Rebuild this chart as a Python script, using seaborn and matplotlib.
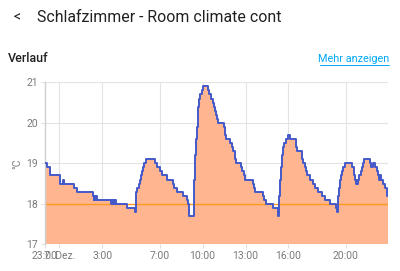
import matplotlib
matplotlib.use("Agg")
import matplotlib.pyplot as plt
import seaborn as sns
import pandas as pd
from matplotlib.lines import Line2D

# ---- data (hours relative to midnight of 7. Dez.) ----
times = [-1.0, -0.88, -0.65, 0.05, 0.28, 0.33, 1.03, 1.26, 2.33, 2.40, 2.45, 2.52, 2.58, 2.65,
         3.60, 3.66, 3.72, 3.78, 3.84, 3.90, 3.96, 4.70, 5.28, 5.33, 5.44, 5.58, 5.65, 5.72, 5.77,
         5.82, 5.91, 6.03, 6.68, 6.85, 7.05, 7.19, 7.50, 7.96, 8.03, 8.19, 8.65, 8.89, 9.00, 9.07,
         9.38, 9.44, 9.52, 9.59, 9.65, 9.70, 9.76, 9.82, 9.94, 10.05, 10.38, 10.48, 10.58, 10.70,
         10.80, 10.87, 10.95, 11.03, 11.10, 11.51, 11.56, 11.60, 11.65, 11.91, 12.03, 12.14, 12.24,
         12.30, 12.36, 12.66, 12.77, 12.88, 12.96, 13.54, 13.61, 13.66, 14.19, 14.26, 14.40, 14.94,
         15.24, 15.28, 15.35, 15.42, 15.48, 15.55, 15.63, 15.72, 15.82, 16.00, 16.08, 16.50, 16.57,
         16.96, 17.03, 17.12, 17.22, 17.31, 17.49, 17.73, 17.84, 18.07, 18.31, 18.54, 18.89, 19.31,
         19.40, 19.47, 19.52, 19.59, 19.66, 19.71, 19.82, 19.94, 20.47, 20.57, 20.64, 20.70, 20.76,
         20.82, 20.87, 20.94, 21.03, 21.15, 21.20, 21.26, 21.68, 21.78, 21.88, 22.03, 22.15, 22.26,
         22.33, 22.40, 22.47, 22.61, 22.73, 22.85, 22.95]
temps = [19.0, 18.9, 18.7, 18.5, 18.6, 18.5, 18.4, 18.3, 18.2, 18.1, 18.2, 18.1, 18.2, 18.1,
         18.0, 18.1, 18.0, 18.1, 18.0, 18.1, 18.0, 17.9, 17.8, 18.3, 18.4, 18.5, 18.6, 18.7, 18.8,
         18.9, 19.0, 19.1, 19.0, 18.9, 18.8, 18.7, 18.6, 18.5, 18.4, 18.3, 18.2, 18.1, 18.0, 17.7,
         18.6, 19.2, 19.6, 19.9, 20.2, 20.4, 20.6, 20.7, 20.8, 20.9, 20.8, 20.7, 20.6, 20.5,
         20.4, 20.3, 20.2, 20.1, 20.0, 19.9, 19.8, 19.7, 19.6, 19.5, 19.4, 19.3, 19.2,
         19.1, 19.0, 18.9, 18.8, 18.7, 18.6, 18.5, 18.4, 18.3, 18.2, 18.1, 18.0, 17.9,
         17.8, 17.7, 18.2, 18.6, 18.9, 19.2, 19.4, 19.5, 19.6, 19.7, 19.6, 19.4, 19.3,
         19.1, 19.0, 18.9, 18.8, 18.7, 18.6, 18.5, 18.4, 18.3, 18.2, 18.1, 18.0, 17.9,
         17.8, 18.2, 18.4, 18.6, 18.7, 18.8, 18.9, 19.0, 18.9, 18.7, 18.6, 18.5, 18.6,
         18.5, 18.6, 18.7, 18.8, 18.9, 19.0, 19.1, 19.0, 18.9, 19.0, 18.9, 18.8, 18.7,
         18.6, 18.7, 18.6, 18.5, 18.4, 18.2, 18.2]
target_temp = [18.0, 18.0]
target_times = [-1.0, 22.95]

tick_pos = [-1, 0, 3, 7, 10, 13, 16, 20]
tick_labels = ["23:00", "7. Dez.", "3:00", "7:00", "10:00", "13:00", "16:00", "20:00"]
y_ticks = [17, 18, 19, 20, 21]

sns.set_theme(style="white")
plt.rcParams["font.family"] = ["Roboto", "DejaVu Sans"]

fig = plt.figure(figsize=(4.0, 2.71), dpi=100)
ax = fig.add_axes([0.1125, 0.0985, 0.8575, 0.5978])

df = pd.DataFrame({"t": times, "temp": temps})
tdf = pd.DataFrame({"t": target_times, "temp": target_temp})

ax.fill_between(df["t"], df["temp"], 17, step="post", color="#ffb690", lw=0, zorder=1)
sns.lineplot(data=tdf, x="t", y="temp", ax=ax, color="#ff9a1f", lw=1.0, zorder=2,
             estimator=None)
sns.lineplot(data=df, x="t", y="temp", ax=ax, color="#4459c9", lw=1.4,
             drawstyle="steps-post", estimator=None, sort=False, zorder=3)

ax.set_xlim(-1, 22.95)
ax.set_ylim(17, 21)
ax.set_xticks(tick_pos)
ax.set_xticklabels(tick_labels)
ax.set_yticks(y_ticks)
ax.grid(True, color="#e3e3e3", lw=0.8)
ax.set_axisbelow(True)
for s in ["top", "right", "bottom"]:
    ax.spines[s].set_visible(False)
ax.spines["left"].set_color("#d0d0d0")
ax.spines["left"].set_linewidth(1.0)
ax.tick_params(axis="both", colors="#e0e0e0", labelcolor="#7a7a7a", labelsize=7.5,
               length=3, width=0.8, pad=2, left=True, bottom=True)
ax.set_xlabel("")
ax.set_ylabel("°C", color="#7a7a7a", fontsize=7.5, labelpad=3)

# header texts
fig.text(17 / 400, 1 - 17 / 271, "<", fontsize=10, color="#212121", ha="center", va="center")
fig.text(37 / 400, 1 - 17 / 271, "Schlafzimmer - Room climate cont", fontsize=11.4,
         color="#212121", ha="left", va="center")
fig.text(8 / 400, 1 - 59 / 271, "Verlauf", fontsize=9.0, color="#212121",
         ha="left", va="center", fontweight="medium")
fig.text(389 / 400, 1 - 59 / 271, "Mehr anzeigen", fontsize=7.8, color="#03a9f4",
         ha="right", va="center")
fig.lines.append(Line2D([320 / 400, 389 / 400], [1 - 64.5 / 271, 1 - 64.5 / 271],
                        transform=fig.transFigure, color="#03a9f4", lw=0.7))

fig.savefig("out.png", dpi=100)
